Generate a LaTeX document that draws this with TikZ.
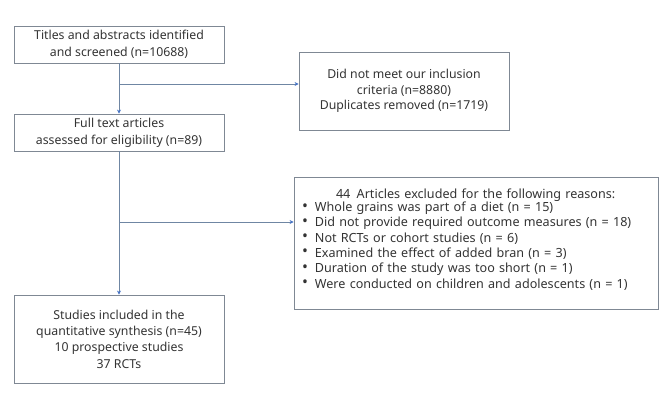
\documentclass[tikz,border=0pt]{standalone}
\usepackage{fontspec}
\usepackage{graphicx}
\setmainfont{Noto Sans}
\usetikzlibrary{arrows.meta}
\definecolor{boxline}{HTML}{7F8894}
\definecolor{flowline}{HTML}{6F86A3}
\definecolor{tipblue}{HTML}{4472C4}
\definecolor{txt}{HTML}{333333}
\newcommand{\bul}{\raisebox{0.5pt}{\scalebox{1.25}{\textbullet}}\hspace{7pt}}

\begin{document}
\begin{tikzpicture}[x=1pt,y=1pt,
        box/.style={draw=boxline,line width=0.8pt,text=txt,align=center,inner sep=2pt,
            font=\fontsize{12.3}{17}\selectfont},
        flow/.style={draw=flowline,line width=0.8pt},
        arr/.style={flow,-{Stealth[length=4pt,width=4pt,color=tipblue]}}]
            \useasboundingbox (0,0) rectangle (669,415);
            \node[box,minimum width=210,minimum height=37] (titles) at (119,370.5)
                {Titles and abstracts identified\\and screened (n=10688)};
            \node[box,minimum width=210,minimum height=78,font=\fontsize{12.3}{15.3}\selectfont]
                (notmet) at (404,324)
                {Did not meet our inclusion\\criteria (n=8880)\\Duplicates removed (n=1719)};
            \node[box,minimum width=210,minimum height=37] (fulltext) at (119,282.5)
                {Full text articles\\assessed for eligibility (n=89)};
            \node[box,minimum height=132,text width=348,inner xsep=8,align=left,
                font=\fontsize{12.6}{15.3}\selectfont] (excluded) at (476,172)
                {\hspace*{34pt}44\enspace Articles excluded for the following reasons:\\[-2pt]
                 \bul Whole grains was part of a diet (n = 15)\\
                 \bul Did not provide required outcome measures (n = 18)\\
                 \bul Not RCTs or cohort studies (n = 6)\\
                 \bul Examined the effect of added bran (n = 3)\\
                 \bul Duration of the study was too short (n = 1)\\
                 \bul Were conducted on children and adolescents (n = 1)\\[-6pt]\mbox{}};
            \node[box,minimum width=210,minimum height=88,font=\fontsize{12.3}{16.3}\selectfont]
                (included) at (119,76)
                {Studies included in the\\quantitative synthesis (n=45)\\10 prospective studies\\37 RCTs};
            \coordinate (split1) at (119,331);
            \coordinate (split2) at (119,193);
            \draw[arr] (titles.south)--(fulltext.north);
            \draw[arr] (split1)--(split1-|notmet.west);
            \draw[arr] (fulltext.south)--(included.north);
            \draw[arr] (split2)--(split2-|excluded.west);
        \end{tikzpicture}
\end{document}
